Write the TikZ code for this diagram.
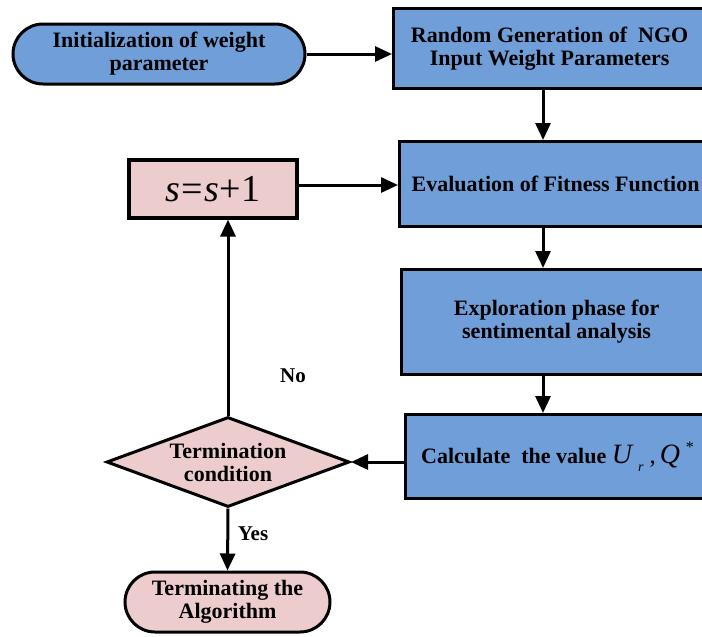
\documentclass[tikz,border=0pt]{standalone}
\usepackage{fontspec}
\setmainfont{Liberation Serif}
\usetikzlibrary{arrows.meta,shapes.geometric}
\definecolor{boxblue}{RGB}{111,158,216}
\definecolor{boxpink}{RGB}{236,204,204}
\begin{document}
\begin{tikzpicture}[x=1pt,y=-1pt,
  every node/.style={font=\fontsize{22}{23}\selectfont\bfseries, align=center, inner sep=0pt},
  bluebox/.style={draw, line width=3.2pt, fill=boxblue, anchor=north west, rectangle},
  pinkbox/.style={draw, line width=3.2pt, fill=boxpink, rectangle},
  pill/.style={draw, line width=3pt, rectangle, rounded corners=30pt, minimum height=60pt},
  arr/.style={line width=3pt, -{Triangle[length=17pt,width=15pt]}},
  lbl/.style={font=\fontsize{21}{22}\selectfont\bfseries}]
\useasboundingbox (0,0) rectangle (702,637);

\node[pill, fill=boxblue, minimum width=292pt] (init) at (159,54) {Initialization of weight\\parameter};
\node[bluebox, minimum width=312pt, minimum height=80pt] (rand) at (392,7) {Random Generation of\ \ NGO\\Input Weight Parameters};
\node[bluebox, minimum width=312pt, minimum height=85pt] (eval) at (398,140) {Evaluation of Fitness Function};
\node[bluebox, minimum width=310pt, minimum height=105pt] (expl) at (400,268) {Exploration phase for\\sentimental analysis};
\node[bluebox, minimum width=304pt, minimum height=84pt] (calc) at (404,413) {Calculate\ \ the value\ {\mdseries\itshape\fontsize{28}{28}\selectfont U}\hspace{6pt}\raisebox{-8pt}{\mdseries\itshape\fontsize{14}{14}\selectfont r}\hspace{6pt}{\mdseries\fontsize{25}{25}\selectfont ,}\hspace{4pt}{\mdseries\itshape\fontsize{28}{28}\selectfont Q}\hspace{6pt}\raisebox{11pt}{\mdseries\fontsize{16}{16}\selectfont *}};
\node[pinkbox, minimum width=168pt, minimum height=58pt] (sbox) at (213,189) {\fontsize{38}{38}\selectfont\mdseries\itshape s\kern1pt\upshape{=}\kern1pt\itshape s\kern1pt\upshape{+}1};
\node[diamond, draw, fill=boxpink, line width=3pt, aspect=2.6, minimum width=243pt, minimum height=90pt] (dia) at (228,462) {Termination\\condition};
\node[pill, fill=boxpink, minimum width=205pt] (term) at (227.5,602) {Terminating the\\Algorithm};

\node[lbl] (no) at (293,376) {No};
\node[lbl] (yes) at (253,534) {Yes};

\coordinate (ax) at (543,0);
\coordinate (sy) at (0,185);

\draw[arr] (init.east) -- (rand.west |- init.east);
\draw[arr] (rand.south -| ax) -- (eval.north -| ax);
\draw[arr] (eval.south -| ax) -- (expl.north -| ax);
\draw[arr] (expl.south -| ax) -- (calc.north -| ax);
\draw[arr] (calc.west |- dia.east) -- (dia.east);
\draw[arr] (dia.north) -- (dia.north |- sbox.south);
\draw[arr] (sbox.east |- sy) -- (eval.west |- sy);
\draw[arr] (dia.south) -- (term.north);
\end{tikzpicture}
\end{document}
